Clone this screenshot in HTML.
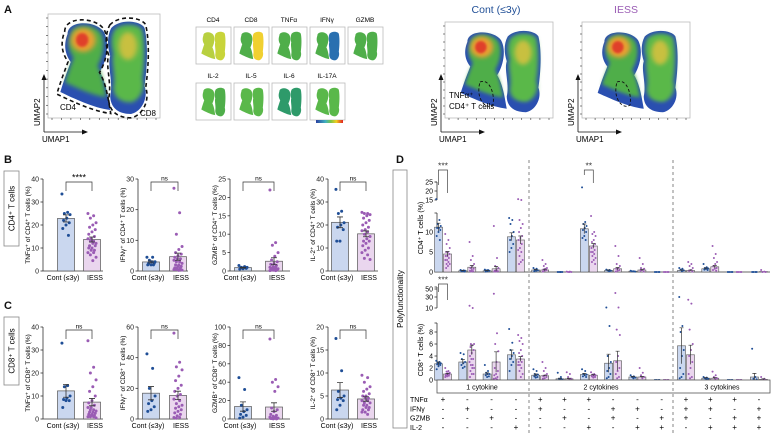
<!DOCTYPE html>
<html><head><meta charset="utf-8">
<style>
html,body{margin:0;padding:0;background:#fff;}
svg{display:block;font-family:"Liberation Sans",Arial,sans-serif;}
</style></head>
<body>
<svg id="fig" width="771" height="436" viewBox="0 0 771 436" xmlns="http://www.w3.org/2000/svg">
<defs>
<filter id="blur2" x="-20%" y="-20%" width="140%" height="140%"><feGaussianBlur stdDeviation="2.5"/></filter>
<filter id="blur1" x="-20%" y="-20%" width="140%" height="140%"><feGaussianBlur stdDeviation="1.2"/></filter>
<linearGradient id="cbar" x1="0" x2="1"><stop offset="0" stop-color="#2a3fa0"/><stop offset="0.35" stop-color="#3fb0c0"/><stop offset="0.55" stop-color="#7cc545"/><stop offset="0.75" stop-color="#f0d020"/><stop offset="1" stop-color="#e02020"/></linearGradient>
</defs>
<g id="root"></g>
</svg>
<script>
// ---------- Panel B / C data ----------
const groupLabels=['Cont (≤3y)','IESS'];
const B1c=[33.5,25.5,25,24.5,23,22,21,20,18.5,15.5];
const B1i=[25,24,23,21,20,19,18,17,16,15,14,14,13,13,12,12,11,11,10,10,9,9,8,8,7,6,4.5];
const B2c=[4.5,4.5,3.5,3,3,2.5,2.5,2,2,2];
const B2i=[27,19,12,8,7,6,5.5,5,4.5,4,4,3.5,3,3,2.5,2,2,1.5,1.5,1,1,1,0.5,0.5,0.5,0.3,0.2];
const B3c=[1.5,1.2,1,1,0.9,0.8,0.7,0.6,0.5];
const B3i=[22,7.7,7,5,4,3,2.5,2,1.8,1.5,1.2,1,1,0.8,0.6,0.5,0.5,0.4,0.3,0.3,0.2,0.2,0.1,0.1];
const B4c=[35.5,26,25,21,20,19,18,13,13];
const B4i=[25.5,25,25,24.5,24,23,22,21,20,19,18,17.5,17,16,15,14,13,13,12,11,10,9,8,7,5.5,5];
const C1c=[33,14.5,14,10,9,8.5,8,8,5];
const C1i=[34,22.5,20,17,14,12,10,8,7,6,5,5,4,4,3.5,3,3,2.5,2,2,1.5,1.5,1,1,1,0.5];
const C2c=[42.5,33,20,15,12,10,8,6,5];
const C2i=[56,37,34,32,28,25,22,20,18,16,15,13,12,10,9,8,7,6,5,4,3,2,1,1,0.5];
const C3c=[45,32,15,10,8,5,4,2,1];
const C3i=[87,43,40,35,30,12,10,8,5,4,3,2,2,1,1,1,0.5,0.5,0.5,0.5,0.2,0.2];
const C4c=[17.5,10.5,6,5,4.5,4.2,4,3,2];
const C4i=[9.5,9,8,7,6.5,6,5.5,5,5,4.5,4.5,4,4,3.5,3.5,3,3,2.5,2.5,2,2,1.5,1.5,1];
const B1ticks=[0,10,20,30,40], B2ticks=[0,10,20,30], B3ticks=[0,5,10,15,20,25], B4ticks=[0,10,20,30,40];
const C1ticks=[0,10,20,30,40], C2ticks=[0,20,40,60], C3ticks=[0,20,40,60,80,100], C4ticks=[0,5,10,15,20];
const BCsig=['****','ns','ns','ns','ns','ns','ns','ns'];

// ---------- Panel D data ----------
const Dcats=['1 cytokine','2 cytokines','3 cytokines'];
const Dmarkers=['TNFα','IFNγ','GZMB','IL-2'];
const Dtnf =['+','-','-','-','+','+','+','-','-','-','+','+','+','-'];
const Difn =['-','+','-','-','+','-','-','+','+','-','+','+','-','+'];
const Dgzmb=['-','-','+','-','-','+','-','+','-','+','+','-','+','+'];
const Dil2 =['-','-','-','+','-','-','+','-','+','+','-','+','+','+'];
const D4meanC=[11.2,0.3,0.3,8.8,0.5,0.05,10.8,0.4,0.2,0,0.4,0.8,0,0];
const D4meanI=[4.5,1.2,0.8,8,0.5,0.05,6.5,0.8,0.5,0,0.4,1.3,0,0.1];
const D4semC=[1,0.1,0.1,1,0.1,0,1.2,0.1,0,0,0.1,0.2,0,0];
const D4semI=[0.6,0.4,0.6,1,0.2,0,0.6,0.3,0.2,0,0.1,0.3,0,0];
const D8meanC=[2.7,3,1,4.2,0.8,0.2,0.9,2.8,0.5,0,5.7,0.3,0,0.5];
const D8meanI=[1,5,3,3.5,0.7,0.2,0.8,3.2,0.5,0,4.2,0.3,0,0.1];
const D8semC=[0.3,0.4,0.2,0.8,0.2,0.1,0.2,1.5,0.1,0,3,0.1,0,0.6];
const D8semI=[0.1,0.8,1.7,0.4,0.1,0.1,0.1,1.6,0.1,0,1.6,0.1,0,0.1];
const D4ptsC=[[15.5,13,12,11.5,11,11,10.5,10,9,8],[0.5,0.4,0.3,0.3,0.2,0.2,0.1],[0.6,0.5,0.4,0.3,0.2,0.1],[13.5,13,12,10,9,8,7,6,5],[1,0.8,0.6,0.4,0.3,0.2],[0,0,0,0,0],[22,12.5,12,11.5,11,10.5,10,9,8.5,8],[0.6,0.5,0.4,0.3,0.2],[0.3,0.2,0.2,0.1],[0,0,0,0],[1,0.8,0.6,0.4,0.2],[2,1.2,1,0.9,0.8,0.6,0.5],[0,0,0,0],[0,0,0,0]];
const D4ptsI=[[9.5,8,7,6,5,5,4.5,4,4,3.5,3,3,2.5,2,2,1.5,1],[7.5,4,3,2,1.5,1,0.8,0.5,0.3,0.2,0.1],[11.5,3.5,1.5,1,0.5,0.3,0.2,0.1,0.1],[15.5,15,13,12,11,10,9,8.5,8,7,6,5.5,5,4,3,2.5,2],[3,2,1.5,1,0.8,0.6,0.5,0.3,0.1],[0.1,0.1,0,0,0],[14,10,9.5,9,8,7.5,7,6.5,6,5.5,5,5,4.5,4,3.5,3,2.5,2],[6.5,4,2,1.5,1,0.8,0.5,0.3,0.1],[3.5,2,1,0.8,0.5,0.3,0.1],[0,0,0,0],[2.5,2,1.5,1,0.5,0.3,0.1],[6.5,4.5,3.5,2.5,2,1.5,1,0.8,0.5,0.3],[0,0,0,0],[0.5,0.1,0,0]];
const D8ptsC=[[3.2,3,2.9,2.8,2.7,2.6,2.5,2.3,1.8],[4.5,4.3,3.5,3,2.8,2.5,2.2,2],[2.5,1.5,1.2,1,1,0.8,0.6,0.5],[8.5,6.2,5,4.5,4,3.5,3,2.5,1.5],[1.8,1.5,1,0.9,0.8,0.6,0.5,0.4],[1.2,0.5,0.2,0.1,0.1],[1.8,1.5,1,0.9,0.8,0.6,0.5],[11,9,4,3,2,1.5,1,0.5,0.3],[0.8,0.6,0.5,0.4,0.3],[0,0,0,0],[30,9,8,5,4,2,1,0.5,0.3],[0.5,0.4,0.3,0.2,0.1],[0,0,0,0],[5.2,0.5,0.2,0.1]];
const D8ptsI=[[2,1.5,1.4,1.2,1.1,1,1,0.9,0.8,0.7,0.6,0.5],[14,10,6,6,5.8,5.5,5,4.5,4,3.5,3.5,3,2.5,2.5,2,2,1.5,1,1,0.5],[38,7.8,6,4.8,3,2,1.5,1,0.8,0.5,0.3,0.2,0.1],[7.5,7,6.5,6,5,4.5,4,3.5,3,3,2.5,2.5,2,1.5,1,0.5],[3,2,1.5,1,0.8,0.6,0.5,0.3,0.2],[1.3,1,0.5,0.2,0.1],[1.3,1,0.9,0.8,0.7,0.6,0.5,0.4],[40,11,8.4,7.5,4,3,2,1.5,1,0.5,0.3],[2,1.2,0.8,0.5,0.3],[0,0,0,0],[25,18,8.4,6,5,4,3,2,1,0.5,0.3],[1.4,0.8,0.5,0.3,0.2],[0,0,0,0],[0.5,0.2,0.1,0]];

// ---------- helpers ----------
const NS='http://www.w3.org/2000/svg';
const root=document.getElementById('root');
function el(tag,attrs,parent,text){const e=document.createElementNS(NS,tag);for(const k in attrs)e.setAttribute(k,attrs[k]);if(text!==undefined)e.textContent=text;(parent||root).appendChild(e);return e;}
const BLUE='#1f4e96',PURP='#9a5cb4',BFILL='#cad7ef',PFILL='#ead6ee',AX='#333';
function mean(a){return a.reduce((s,v)=>s+v,0)/a.length;}
function sem(a){const m=mean(a);return Math.sqrt(a.reduce((s,v)=>s+(v-m)*(v-m),0)/(a.length-1))/Math.sqrt(a.length);}
function jit(i){return ((i*7)%11-5)*0.9;}

// ---------- Panel letters ----------
[['A',4,13],['B',4,163],['C',4,309],['D',396,163]].forEach(([t,x,y])=>{
  const e=el('text',{x:x,y:y,'font-size':11,'font-weight':'bold',fill:'#111'},root,t);
  
  
});

// ---------- Panel A UMAPs ----------
const CD4P="M15,18 C15,4 42,4 50,16 C56,28 52,46 46,56 C52,66 54,82 56,94 C40,92 20,82 8,76 C12,62 16,52 18,46 C11,36 12,26 15,18Z";
const CD8P="M57,12 C66,2 86,5 89,12 C93,30 91,55 89,70 C93,82 86,96 76,98 C62,98 56,90 56,80 C59,66 53,50 56,40 C53,30 53,20 57,12Z";
function umap(x,y,w,h,opts,name){
  const g=el('g',{transform:`translate(${x},${y}) scale(${w/100},${h/100})`});
  
  
  el('path',{d:CD4P,fill:opts.base||'#2a4fb0'},g);
  el('path',{d:CD8P,fill:opts.base||'#2a4fb0'},g);
  if(opts.inner){
    el('path',{d:CD4P,fill:opts.c4||'#4fae4a',transform:'translate(6,4) scale(0.82)',filter:'url(#blur2)'},g);
    el('path',{d:CD8P,fill:opts.c8||'#5ab84a',transform:'translate(12,4) scale(0.84)',filter:'url(#blur2)'},g);
  }
  if(opts.hot){
    el('ellipse',{cx:30,cy:24,rx:12,ry:12,fill:'#e8a030',filter:'url(#blur2)'},g);
    el('ellipse',{cx:29,cy:24,rx:6,ry:7,fill:'#e0402a',filter:'url(#blur1)'},g);
    el('ellipse',{cx:73,cy:30,rx:9,ry:14,fill:'#c8c040',filter:'url(#blur2)'},g);
  }
  if(opts.dash){
    el('path',{d:CD4P,fill:'none',stroke:'#111','stroke-width':1.6,'stroke-dasharray':'4,3',transform:'translate(-4,-4) scale(1.08)','vector-effect':'non-scaling-stroke'},g);
    el('path',{d:CD8P,fill:'none',stroke:'#111','stroke-width':1.6,'stroke-dasharray':'4,3',transform:'translate(-6,-4) scale(1.08)','vector-effect':'non-scaling-stroke'},g);
  }
  return g;
}
function umapFrame(x,y,w,h,name){
  const g=el('g',{});
  
  
  el('rect',{x:x,y:y,width:w,height:h,fill:'none',stroke:'#bbb','stroke-width':0.8},g);
  for(let i=0;i<12;i++){el('line',{x1:x-2,x2:x,y1:y+h-4-i*(h-8)/11,y2:y+h-4-i*(h-8)/11,stroke:'#333','stroke-width':0.6},g);
    el('line',{y1:y+h,y2:y+h+2,x1:x+4+i*(w-8)/11,x2:x+4+i*(w-8)/11,stroke:'#333','stroke-width':0.6},g);}
  el('path',{d:`M${x-4},${y+h+14} L${x-4},${y+h-40} M${x-4},${y+h+14} L${x+36},${y+h+14}`,stroke:'#111','stroke-width':0.8,fill:'none'},g);
  el('path',{d:`M${x-6.5},${y+h-38} L${x-4},${y+h-44} L${x-1.5},${y+h-38}Z M${x+34},${y+h+11.5} L${x+40},${y+h+14} L${x+34},${y+h+16.5}Z`,fill:'#111'},g);
  el('text',{x:x-8,y:y+h+8,'font-size':8,transform:`rotate(-90 ${x-8} ${y+h+8})`},g,'UMAP2');
  el('text',{x:x-6,y:y+h+24,'font-size':8},g,'UMAP1');
}
umapFrame(48,14,112,104,'umap-overview-frame');
umap(52,16,104,100,{inner:true,hot:true,dash:true},'umap-overview');
el('text',{x:60,y:110,'font-size':8},root,'CD4');
el('text',{x:140,y:116,'font-size':8},root,'CD8');

const markerNames=['CD4','CD8','TNFα','IFNγ','GZMB','IL-2','IL-5','IL-6','IL-17A'];
const markerCols=[['#b8d040','#c8d43a'],['#4fae4a','#f0d030'],['#4fae4a','#4fae4a'],['#4fae4a','#2a70b0'],['#4fae4a','#4fae4a'],['#5ab84a','#4fae4a'],['#5ab84a','#5ab84a'],['#2e9a6a','#2e9a6a'],['#5ab84a','#5ab84a']];
markerNames.forEach((m,i)=>{
  const col=i%5,row=Math.floor(i/5);
  const x=196+col*38,y=27+row*56;
  const g=el('g',{});
  
  
  el('text',{x:x+17,y:y-5,'font-size':6.5,'text-anchor':'middle'},g,m);
  el('rect',{x:x,y:y,width:35,height:37,fill:'#fff',stroke:'#bbb','stroke-width':0.8},g);
  const s=umap(x+3,y+3,29,31,{base:markerCols[i][0]},'marker-umap-cloud');
  g.appendChild(s);
  s.lastChild.setAttribute('fill',markerCols[i][1]);
});
const cb=el('rect',{x:316,y:120,width:27,height:3,fill:'url(#cbar)'});



[['Cont (≤3y)',496,BLUE,445,'umap-cont'],['IESS',626,PURP,582,'umap-iess']].forEach(([t,cx,c,x,n],k)=>{
  const tt=el('text',{x:cx,y:13,'font-size':10.5,'text-anchor':'middle',fill:c},root,t);
  
  
  umapFrame(x,22,108,96,n+'-frame');
  umap(x+8,26,96,88,{inner:true,hot:true},n);
  el('path',{d:`M${x+35},${82} C${x+45},${78} ${x+50},${95} ${x+48},${105} C${x+42},${110} ${x+30},${100} ${x+35},${82}Z`,fill:'none',stroke:'#111','stroke-width':0.9,'stroke-dasharray':'3,2'});
});
el('text',{x:449,y:98,'font-size':8},root,'TNFα⁺');
el('text',{x:449,y:109,'font-size':8},root,'CD4⁺ T cells');

// ---------- Panel B/C ----------
function boxedVLabel(x,y,w,h,text,name){
  const g=el('g',{});
  
  
  el('rect',{x:x,y:y,width:w,height:h,fill:'none',stroke:'#888','stroke-width':0.8},g);
  el('text',{x:x+w/2+3,y:y+h/2,'font-size':8,'text-anchor':'middle',transform:`rotate(-90 ${x+w/2+3} ${y+h/2})`},g,text);
}
boxedVLabel(4,171,15,75,'CD4⁺ T cells','cd4-row-label');
boxedVLabel(4,317,15,68,'CD8⁺ T cells','cd8-row-label');

const axisX=[43,138,230,328];
const xEnd=[103,188,290,378];
const barCx=[[66,92],[151,178],[243,274],[340,366]];
function barPlot(k,top,bot,cont,iess,ticks,ylabel,sig,name){
  const g=el('g',{});
  
  
  const ax=axisX[k],max=ticks[ticks.length-1];
  const y=v=>bot-(v/max)*(bot-top);
  el('line',{x1:ax,x2:ax,y1:top,y2:bot,stroke:AX,'stroke-width':0.8},g);
  el('line',{x1:ax,x2:xEnd[k],y1:bot,y2:bot,stroke:AX,'stroke-width':0.8},g);
  ticks.forEach(t=>{el('line',{x1:ax-2.5,x2:ax,y1:y(t),y2:y(t),stroke:AX,'stroke-width':0.8},g);
    el('text',{x:ax-4,y:y(t)+2.5,'font-size':7,'text-anchor':'end',fill:'#222'},g,t);});
  const lx=ax-13,ly=(top+bot)/2;
  el('text',{x:lx,y:ly,'font-size':6.5,'text-anchor':'middle',transform:`rotate(-90 ${lx} ${ly})`},g,ylabel);
  [[cont,BFILL,BLUE],[iess,PFILL,PURP]].forEach(([d,f,c],j)=>{
    const cx=barCx[k][j],m=mean(d),s=sem(d),bw=17;
    const bar=el('rect',{x:cx-bw/2,y:y(m),width:bw,height:bot-y(m),fill:f,stroke:'#555','stroke-width':0.7},g);
    
    
    d.forEach((v,i)=>{const p=el('circle',{cx:cx+jit(i)*0.9,cy:y(v),r:1.5,fill:c},g);
      
      });
    el('path',{d:`M${cx},${y(m+s)} V${y(m-s)} M${cx-3},${y(m+s)} H${cx+3} M${cx-3},${y(m-s)} H${cx+3}`,stroke:'#333','stroke-width':0.8},g);
    el('text',{x:j?cx+3:cx-3,y:bot+9,'font-size':7,'text-anchor':'middle'},g,groupLabels[j]);
  });
  const bt=top+3;
  el('path',{d:`M${barCx[k][0]},${bt+9} V${bt} H${barCx[k][1]} V${bt+9}`,stroke:'#333','stroke-width':0.7,fill:'none'},g);
  el('text',{x:(barCx[k][0]+barCx[k][1])/2,y:bt-1.5,'font-size':sig==='ns'?6.5:9,'text-anchor':'middle'},g,sig);
}
barPlot(0,179,271,B1c,B1i,B1ticks,'TNFα⁺ of CD4⁺ T cells (%)',BCsig[0],'plot-b-tnfa');
barPlot(1,179,271,B2c,B2i,B2ticks,'IFNγ⁺ of CD4⁺ T cells (%)',BCsig[1],'plot-b-ifng');
barPlot(2,179,271,B3c,B3i,B3ticks,'GZMB⁺ of CD4⁺ T cells (%)',BCsig[2],'plot-b-gzmb');
barPlot(3,179,271,B4c,B4i,B4ticks,'IL-2⁺ of CD4⁺ T cells (%)',BCsig[3],'plot-b-il2');
barPlot(0,327,419,C1c,C1i,C1ticks,'TNFα⁺ of CD8⁺ T cells (%)',BCsig[4],'plot-c-tnfa');
barPlot(1,327,419,C2c,C2i,C2ticks,'IFNγ⁺ of CD8⁺ T cells (%)',BCsig[5],'plot-c-ifng');
barPlot(2,327,419,C3c,C3i,C3ticks,'GZMB⁺ of CD8⁺ T cells (%)',BCsig[6],'plot-c-gzmb');
barPlot(3,327,419,C4c,C4i,C4ticks,'IL-2⁺ of CD8⁺ T cells (%)',BCsig[7],'plot-c-il2');

// ---------- Panel D ----------
boxedVLabel(393,170,14,258,'Polyfunctionality','polyfunctionality-label');
const dAx=437,dEnd=770;
const gx=i=>443+i*24.3;
function y4(v){return v<=14.7?272-v*4:200-(v-15)*1.8;}
function y8(v){return v<=9.5?380-v*6:(v<=30?308-(v-10)*0.55:297-(v-30)*0.4);}
function dAxis(segs,name,label,cy){
  const g=el('g',{});
  
  
  segs.forEach(([a,b,ticks,fn])=>{
    el('line',{x1:dAx,x2:dAx,y1:a,y2:b,stroke:AX,'stroke-width':0.8},g);
    ticks.forEach(t=>{el('line',{x1:dAx-2.5,x2:dAx,y1:fn(t),y2:fn(t),stroke:AX,'stroke-width':0.8},g);
      el('text',{x:dAx-4,y:fn(t)+2.5,'font-size':7,'text-anchor':'end'},g,t);});
    el('line',{x1:dAx-2.5,x2:dAx,y1:b,y2:b,stroke:AX,'stroke-width':0.8},g);
  });
  el('text',{x:423,y:cy,'font-size':7,'text-anchor':'middle',transform:`rotate(-90 423 ${cy})`},g,label);
}
dAxis([[272,213,[0,5,10],y4],[200,182,[15,20,25],y4]],'d-cd4-y-axis','CD4⁺ T cells (%)',228);
dAxis([[380,323,[0,2,4,6,8],y8],[308,287,[10,30,50],y8]],'d-cd8-y-axis','CD8⁺ T cells (%)',350);
el('line',{x1:dAx,x2:dEnd,y1:272,y2:272,stroke:AX,'stroke-width':0.8});
function dSeries(yf,mC,mI,sC,sI,pC,pI,name,base){
  const g=el('g',{});
  
  
  for(let i=0;i<mC.length;i++){
    [[mC,sC,pC,BFILL,BLUE,-4.5],[mI,sI,pI,PFILL,PURP,4.5]].forEach(([m,s,p,f,c,off],j)=>{
      const cx=gx(i)+off,bw=8;
      const b=el('rect',{x:cx-bw/2,y:yf(m[i]),width:bw,height:Math.max(0,base-yf(m[i])),fill:f,stroke:'#555','stroke-width':0.6},g);
      
      
      p[i].forEach((v,k)=>{const d=el('circle',{cx:cx+jit(k)*0.5,cy:yf(v),r:1,fill:c},g);
        
        });
      if(s[i]>0)el('path',{d:`M${cx},${yf(m[i]+s[i])} V${yf(Math.max(0,m[i]-s[i]))} M${cx-2},${yf(m[i]+s[i])} H${cx+2}`,stroke:'#333','stroke-width':0.7},g);
    });
  }
}
dSeries(y4,D4meanC,D4meanI,D4semC,D4semI,D4ptsC,D4ptsI,'d-cd4-series',272);
dSeries(y8,D8meanC,D8meanI,D8semC,D8semI,D8ptsC,D8ptsI,'d-cd8-series',380);
// significance
function dSig(i,yTop,yBot,t,name){
  const g=el('g',{});
  
  
  el('path',{d:`M${gx(i)-4.5},${yBot} V${yTop} H${gx(i)+4.5} V${yBot+8}`,stroke:'#444','stroke-width':0.7,fill:'none'},g);
  el('text',{x:gx(i),y:yTop-1.5,'font-size':8.5,'text-anchor':'middle',fill:'#333'},g,t);
}
dSig(0,170,185,'***','d-sig-cd4-1');
dSig(6,170,175,'**','d-sig-cd4-7');
dSig(0,284,292,'***','d-sig-cd8-1');
// category bar
el('rect',{x:dAx,y:380,width:dEnd-dAx,height:13,fill:'#fff',stroke:'#555','stroke-width':0.8});
const divX=[529,673];
divX.forEach((x,k)=>{const l=el('line',{x1:x,x2:x,y1:160,y2:436,stroke:'#666','stroke-width':0.8,'stroke-dasharray':'3,3'});
  
  });
[[482],[601],[722]].forEach(([x],k)=>{const t=el('text',{x:x,y:389.5,'font-size':7,'text-anchor':'middle'},root,Dcats[k]);
  
  });
const signRows=[Dtnf,Difn,Dgzmb,Dil2];
signRows.forEach((row,r)=>{
  const yy=402+r*9.3;
  const lbl=el('text',{x:410,y:yy,'font-size':7},root,Dmarkers[r]);
  
  
  row.forEach((s,i)=>{el('text',{x:gx(i),y:yy,'font-size':8,'text-anchor':'middle'},root,s==='+'?'+':'-');});
});
</script>
</body></html>
